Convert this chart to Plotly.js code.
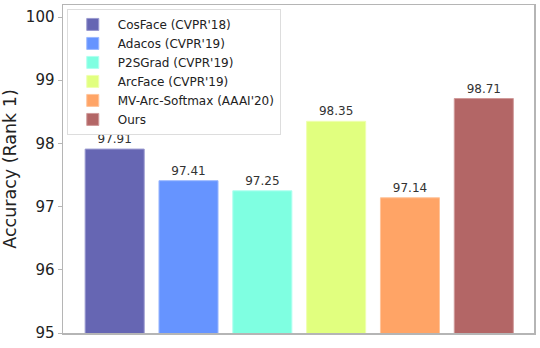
<!DOCTYPE html>
<html>
<head>
<meta charset="utf-8">
<script src="https://cdn.plot.ly/plotly-3.0.1.min.js"></script>
<style>html,body{margin:0;padding:0;background:#fff;}#chart{width:540px;height:348px;}</style>
</head>
<body>
<div id="chart"></div>
<script>
const methods = ["CosFace (CVPR'18)", "Adacos (CVPR'19)", "P2SGrad (CVPR'19)", "ArcFace (CVPR'19)", "MV-Arc-Softmax (AAAI'20)", "Ours"];
const accuracy = [97.91, 97.41, 97.25, 98.35, 97.14, 98.71];
const colors = ["#6666b3", "#6694ff", "#7fffe1", "#e1ff7f", "#ffa466", "#b36666"];
const edgeColors = ["#9a9ad0", "#9bb8ff", "#b0fff0", "#efffb0", "#ffc49b", "#d09a9a"];
const yTicks = [95, 96, 97, 98, 99, 100];

const font = "DejaVu Sans, Verdana, sans-serif";
const traces = methods.map((m, i) => ({
  type: 'bar',
  name: m,
  x: [i],
  y: [accuracy[i]],
  width: 0.8,
  marker: {color: colors[i], line: {color: edgeColors[i], width: 1}},
  text: [accuracy[i].toFixed(2)],
  textposition: 'outside',
  textfont: {family: font, size: 12, color: '#333333'},
  cliponaxis: false,
  hoverinfo: 'none'
}));

const layout = {
  width: 540, height: 348,
  margin: {l: 63, r: 6, t: 5, b: 15},
  paper_bgcolor: '#ffffff', plot_bgcolor: '#ffffff',
  barmode: 'overlay',
  showlegend: true,
  font: {family: font, color: '#222222'},
  legend: {
    x: 0.008, y: 0.988, xanchor: 'left', yanchor: 'top',
    bgcolor: '#ffffff', bordercolor: '#dddddd', borderwidth: 1,
    font: {family: font, size: 12, color: '#222222'},
    itemwidth: 40,
    traceorder: 'normal'
  },
  xaxis: {
    range: [-0.70, 5.68], showticklabels: false, ticks: '',
    showline: true, mirror: true, linecolor: '#b5b5b5', linewidth: 1.5,
    showgrid: false, zeroline: false, fixedrange: true
  },
  yaxis: {
    range: [95, 100.19], tickvals: yTicks, ticktext: yTicks.map(String),
    ticks: 'outside', ticklen: 4, tickcolor: '#b5b5b5', tickwidth: 1,
    tickfont: {family: font, size: 15, color: '#222222'},
    showline: true, mirror: true, linecolor: '#b5b5b5', linewidth: 1.5,
    showgrid: false, zeroline: false,
    title: {text: 'Accuracy (Rank 1)', font: {family: font, size: 17.5, color: '#222222'}, standoff: 10}
  }
};

Plotly.newPlot('chart', traces, layout, {displayModeBar: false, staticPlot: true});
</script>
</body>
</html>
